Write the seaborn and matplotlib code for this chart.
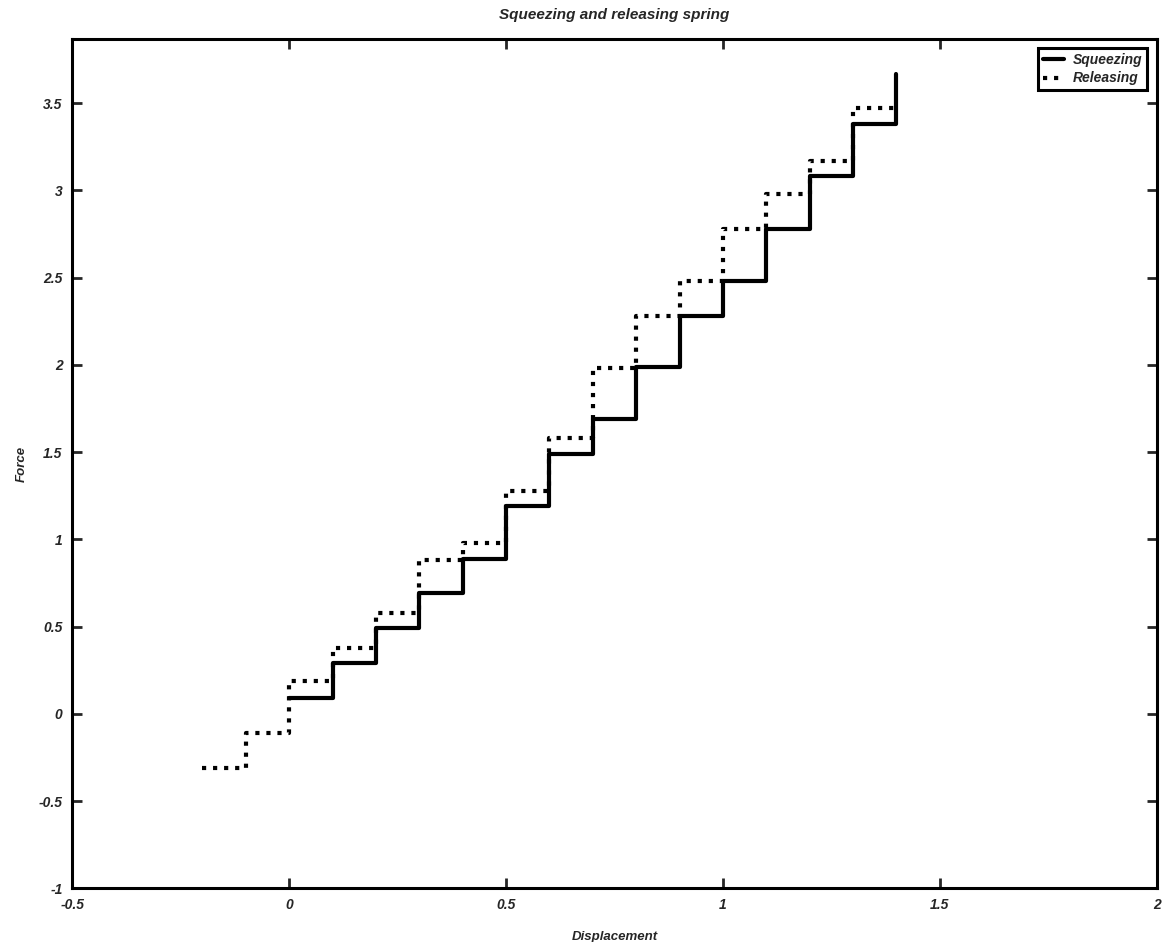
import numpy as np
import pandas as pd
import matplotlib
matplotlib.use("Agg")
import matplotlib.pyplot as plt
import seaborn as sns

# displacement steps and force levels
squeeze_x = [0.0, 0.1, 0.2, 0.3, 0.4, 0.5, 0.6, 0.7, 0.8, 0.9, 1.0, 1.1, 1.2, 1.3, 1.4]
squeeze_f = [0.09, 0.29, 0.49, 0.69, 0.89, 1.19, 1.49, 1.69, 1.99, 2.28, 2.48, 2.78, 3.08, 3.38, 3.67]

release_x = [-0.2, -0.1, 0.0, 0.1, 0.2, 0.3, 0.4, 0.5, 0.6, 0.7, 0.8, 0.9, 1.0, 1.1, 1.2, 1.3, 1.4]
release_f = [-0.31, -0.11, 0.19, 0.38, 0.58, 0.88, 0.98, 1.28, 1.58, 1.98, 2.28, 2.48, 2.78, 2.98, 3.17, 3.47, 3.47]

xticks = [-0.5, 0, 0.5, 1, 1.5, 2]
xticklabels = ["-0.5", "0", "0.5", "1", "1.5", "2"]
yticks = [-1, -0.5, 0, 0.5, 1, 1.5, 2, 2.5, 3, 3.5]
yticklabels = ["-1", "-0.5", "0", "0.5", "1", "1.5", "2", "2.5", "3", "3.5"]

squeeze = pd.DataFrame({"Displacement": squeeze_x, "Force": squeeze_f})
release = pd.DataFrame({"Displacement": release_x, "Force": release_f})

sns.set_style("ticks")
plt.rcParams["font.family"] = ["Liberation Sans", "DejaVu Sans"]

fig = plt.figure(figsize=(11.66, 9.42), dpi=100)
ax = fig.add_axes([0.062, 0.057, 0.930, 0.902])

sns.lineplot(data=squeeze, x="Displacement", y="Force", ax=ax, color="black",
             linewidth=3, drawstyle="steps-post", sort=False, estimator=None,
             label="Squeezing")
sns.lineplot(data=release, x="Displacement", y="Force", ax=ax, color="black",
             linewidth=3, linestyle=":", drawstyle="steps-post", sort=False,
             estimator=None, label="Releasing")

ax.set_xlim(-0.5, 2)
ax.set_ylim(-1, 3.87)
ax.set_xticks(xticks)
ax.set_xticklabels(xticklabels)
ax.set_yticks(yticks)
ax.set_yticklabels(yticklabels)

for lbl in ax.get_xticklabels() + ax.get_yticklabels():
    lbl.set_fontweight("bold")
    lbl.set_fontstyle("italic")
    lbl.set_fontsize(10)

ax.tick_params(direction="in", length=7, width=2, top=True, right=True, pad=7)
for side in ["top", "bottom", "left", "right"]:
    ax.spines[side].set_visible(True)
    ax.spines[side].set_linewidth(2.2)
    ax.spines[side].set_color("black")

ax.set_title("Squeezing and releasing spring", fontsize=11, fontweight="bold",
             fontstyle="italic", pad=14)
ax.set_xlabel("Displacement", fontsize=9.5, fontweight="bold", fontstyle="italic", labelpad=14)
ax.set_ylabel("Force", fontsize=9.5, fontweight="bold", fontstyle="italic", labelpad=8)

leg = ax.legend(loc="upper right", handlelength=1.5, handletextpad=0.6,
                borderpad=0.35, labelspacing=0.3, fancybox=False, framealpha=1,
                edgecolor="black", prop={"size": 10, "weight": "bold", "style": "italic"},
                borderaxespad=0.7)
leg.get_frame().set_linewidth(2.2)

fig.savefig("out.png", dpi=100)
